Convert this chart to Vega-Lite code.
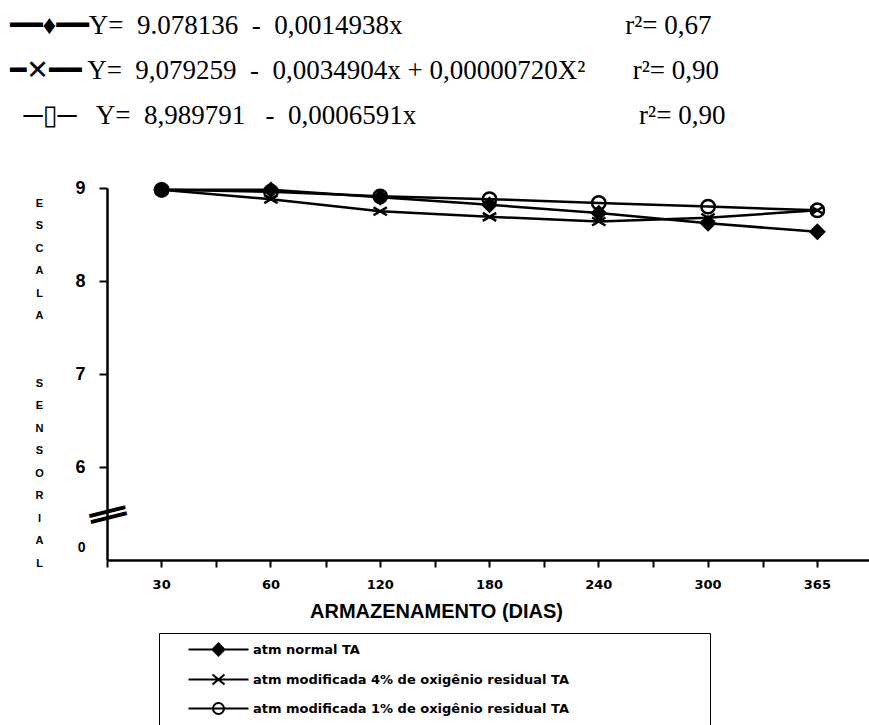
{
  "$schema": "https://vega.github.io/schema/vega-lite/v6.json",
  "width": 765,
  "height": 372,
  "autosize": {"type": "none"},
  "padding": {"left": 107, "top": 188, "right": 0, "bottom": 165},
  "background": "white",
  "config": {"view": {"stroke": null}, "axis": {"grid": false}},
  "title": {
    "text": [
      "━━♦━━Y=\u00a0 9.078136 \u00a0-\u00a0 0,0014938x\u2003\u2003\u2003\u2003\u2003\u2003\u2003\u2003\u00a0r²= 0,67",
      "━✕━━ Y=\u00a0 9,079259 \u00a0-\u00a0 0,0034904x + 0,00000720X²\u00a0\u00a0\u00a0\u00a0\u00a0\u00a0\u00a0r²= 0,90",
      "\u200b\u00a0\u00a0─▯─\u00a0\u00a0 Y=\u00a0 8,989791 \u00a0\u00a0-\u00a0 0,0006591x\u2003\u2003\u2003\u2003\u2003\u2003\u2003\u2003\u00a0r²= 0,90"
    ],
    "anchor": "start",
    "frame": "group",
    "font": "'Liberation Serif', 'DejaVu Sans'",
    "fontSize": 27,
    "fontWeight": "normal",
    "color": "black",
    "lineHeight": 45,
    "baseline": "bottom",
    "dx": -97,
    "offset": 21
  },
  "data": {
    "values": [
      {"serie": "atm normal TA", "dias": "30", "escala": 8.98},
      {"serie": "atm normal TA", "dias": "60", "escala": 8.98},
      {"serie": "atm normal TA", "dias": "120", "escala": 8.90},
      {"serie": "atm normal TA", "dias": "180", "escala": 8.82},
      {"serie": "atm normal TA", "dias": "240", "escala": 8.73},
      {"serie": "atm normal TA", "dias": "300", "escala": 8.62},
      {"serie": "atm normal TA", "dias": "365", "escala": 8.53},
      {"serie": "atm modificada 4% de oxigênio residual TA", "dias": "30", "escala": 8.98},
      {"serie": "atm modificada 4% de oxigênio residual TA", "dias": "60", "escala": 8.88},
      {"serie": "atm modificada 4% de oxigênio residual TA", "dias": "120", "escala": 8.75},
      {"serie": "atm modificada 4% de oxigênio residual TA", "dias": "180", "escala": 8.69},
      {"serie": "atm modificada 4% de oxigênio residual TA", "dias": "240", "escala": 8.64},
      {"serie": "atm modificada 4% de oxigênio residual TA", "dias": "300", "escala": 8.68},
      {"serie": "atm modificada 4% de oxigênio residual TA", "dias": "365", "escala": 8.76},
      {"serie": "atm modificada 1% de oxigênio residual TA", "dias": "30", "escala": 8.98},
      {"serie": "atm modificada 1% de oxigênio residual TA", "dias": "60", "escala": 8.96},
      {"serie": "atm modificada 1% de oxigênio residual TA", "dias": "120", "escala": 8.91},
      {"serie": "atm modificada 1% de oxigênio residual TA", "dias": "180", "escala": 8.88},
      {"serie": "atm modificada 1% de oxigênio residual TA", "dias": "240", "escala": 8.84},
      {"serie": "atm modificada 1% de oxigênio residual TA", "dias": "300", "escala": 8.80},
      {"serie": "atm modificada 1% de oxigênio residual TA", "dias": "365", "escala": 8.76}
    ]
  },
  "resolve": {"axis": {"x": "independent"}, "scale": {"shape": "independent"}},
  "layer": [
    {
      "mark": {"type": "line", "color": "black", "strokeWidth": 2.5},
      "encoding": {
        "x": {
          "field": "dias", "type": "ordinal",
          "scale": {"type": "band", "paddingInner": 0, "paddingOuter": 0, "domain": ["30", "60", "120", "180", "240", "300", "365"]},
          "axis": {
            "orient": "bottom", "title": "ARMAZENAMENTO (DIAS)", "labelAngle": 0,
            "labelFont": "DejaVu Sans", "labelFontWeight": "bold", "labelFontSize": 13, "labelColor": "black", "labelPadding": 11,
            "tickSize": 7, "tickWidth": 2, "tickColor": "black", "domainColor": "black", "domainWidth": 2.5,
            "titleFont": "Liberation Sans", "titleFontSize": 20, "titleFontWeight": "bold", "titleColor": "black",
            "titleX": 329, "titleY": 41
          }
        },
        "y": {
          "field": "escala", "type": "quantitative",
          "scale": {"domain": [5, 9], "nice": false, "zero": false},
          "axis": {
            "values": [5.13, 6, 7, 8, 9], "format": "d",
            "labelExpr": "datum.value < 6 ? '0' : datum.label",
            "labelFontSize": {"condition": {"test": "datum.value < 6", "value": 14}, "value": 18},
            "tickOpacity": {"condition": {"test": "datum.value < 6", "value": 0}, "value": 1},
            "labelFont": "Liberation Sans", "labelFontWeight": "bold", "labelColor": "black", "labelPadding": 14,
            "tickSize": 8, "tickWidth": 2, "tickColor": "black", "domainColor": "black", "domainWidth": 2.5,
            "title": ["E", "S", "C", "A", "L", "A", "\u200b", "\u200b", "S", "E", "N", "S", "O", "R", "I", "A", "L"],
            "titleAngle": 0, "titleFont": "Liberation Sans", "titleFontSize": 11, "titleFontWeight": "bold", "titleColor": "black",
            "titleLineHeight": 22.5, "titleX": -68, "titleY": 9, "titleAlign": "center", "titleBaseline": "top"
          }
        },
        "detail": {"field": "serie"}
      }
    },
    {
      "mark": {"type": "point", "stroke": "black", "strokeWidth": 2.5, "size": 180, "opacity": 1},
      "encoding": {
        "x": {"field": "dias", "type": "ordinal", "axis": null},
        "y": {"field": "escala", "type": "quantitative"},
        "shape": {
          "field": "serie", "type": "nominal", "legend": null,
          "scale": {
            "domain": ["atm normal TA", "atm modificada 4% de oxigênio residual TA", "atm modificada 1% de oxigênio residual TA"],
            "range": ["diamond", "M-1,-0.6L1,0.6M-1,0.6L1,-0.6", "circle"]
          }
        },
        "fill": {
          "field": "serie", "type": "nominal", "legend": null,
          "scale": {
            "domain": ["atm normal TA", "atm modificada 4% de oxigênio residual TA", "atm modificada 1% de oxigênio residual TA"],
            "range": ["black", "transparent", "transparent"]
          }
        }
      }
    },
    {
      "mark": {"type": "point", "opacity": 0, "stroke": "black"},
      "encoding": {
        "x": {
          "field": "dias", "type": "ordinal",
          "axis": {"orient": "bottom", "title": null, "labels": false, "domain": false, "tickBand": "extent", "tickSize": 7, "tickWidth": 2, "tickColor": "black"}
        },
        "y": {"field": "escala", "type": "quantitative"},
        "shape": {
          "field": "serie", "type": "nominal",
          "scale": {
            "domain": ["atm normal TA", "atm modificada 4% de oxigênio residual TA", "atm modificada 1% de oxigênio residual TA"],
            "range": [
              "M-1,0M2.6,0H14.6M8.6,-1.2L9.8,0L8.6,1.2L7.4,0ZM8.6,-0.8L9.4,0L8.6,0.8L7.8,0ZM8.6,-0.4L9,0L8.6,0.4L8.2,0ZM8.6,-1.2V1.2M104,0",
              "M-1,0M2.6,0H14.6M7.4,-1L9.8,1M7.4,1L9.8,-1M104,0",
              "M-1,0M2.6,0H14.6M7.5,0A1.1,1.1,0,1,1,9.7,0A1.1,1.1,0,1,1,7.5,0M104,0"
            ]
          },
          "legend": {
            "orient": "none", "legendX": 52, "legendY": 445, "title": null,
            "padding": 10, "rowPadding": 10, "symbolSize": 100,
            "symbolStrokeWidth": 2, "symbolStrokeColor": "black", "symbolFillColor": "transparent", "symbolOpacity": 1,
            "labelOffset": 71, "labelFont": "DejaVu Sans", "labelFontSize": 13, "labelFontWeight": "bold", "labelColor": "black", "labelLimit": 600,
            "strokeColor": "black", "fillColor": "white",
            "encode": {"legend": {"update": {"strokeWidth": {"value": 2.5}}}}
          }
        }
      }
    },
    {
      "data": {"values": [{"marca": "quebra"}]},
      "mark": {"type": "text", "text": ["—", "—"], "font": "Liberation Sans", "fontWeight": "bold", "fontSize": 37, "lineHeight": 6, "angle": -14, "align": "center", "baseline": "middle", "color": "black"},
      "encoding": {
        "x": {"datum": "30", "type": "ordinal", "bandPosition": 0, "axis": null},
        "y": {"datum": 5.53, "type": "quantitative"}
      }
    }
  ]
}
